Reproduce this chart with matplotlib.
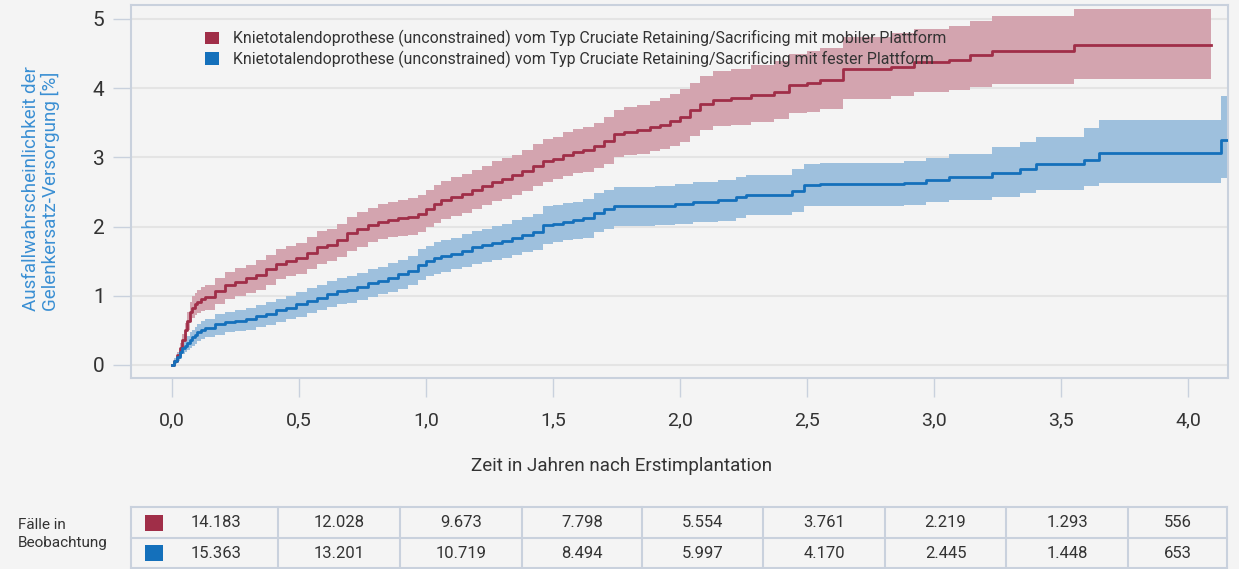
import matplotlib
matplotlib.use("Agg")
import matplotlib.pyplot as plt
from matplotlib.patches import Patch, Rectangle

plt.rcParams['font.family'] = ['Roboto', 'DejaVu Sans']

# ---------------- data ----------------
red_label = "Knietotalendoprothese (unconstrained) vom Typ Cruciate Retaining/Sacrificing mit mobiler Plattform"
blue_label = "Knietotalendoprothese (unconstrained) vom Typ Cruciate Retaining/Sacrificing mit fester Plattform"

red_t = [0.00, 0.01, 0.02, 0.03, 0.04, 0.05, 0.06, 0.07, 0.08, 0.09, 0.10, 0.115, 0.13,
         0.17, 0.21, 0.25, 0.29, 0.33, 0.37, 0.41, 0.45, 0.49,
         0.53, 0.57, 0.61, 0.65, 0.69, 0.73, 0.77, 0.81, 0.85, 0.89, 0.93, 0.97, 1.00, 1.03, 1.06, 1.10,
         1.14, 1.18, 1.22, 1.26, 1.30, 1.34, 1.38, 1.42, 1.46, 1.50, 1.54, 1.58, 1.62, 1.66, 1.70, 1.74,
         1.78, 1.83, 1.88, 1.92, 1.96, 2.00, 2.04, 2.08, 2.13, 2.20, 2.28, 2.37, 2.43, 2.50, 2.55, 2.64,
         2.83, 2.92, 3.06, 3.14, 3.23, 3.55, 4.09]
red_v = [0.00, 0.06, 0.14, 0.25, 0.36, 0.50, 0.64, 0.76, 0.83, 0.88, 0.91, 0.95, 0.98,
         1.07, 1.15, 1.20, 1.25, 1.30, 1.38, 1.46, 1.50, 1.54,
         1.62, 1.70, 1.74, 1.80, 1.90, 1.96, 2.02, 2.07, 2.10, 2.13, 2.14, 2.18, 2.25, 2.32, 2.38, 2.42,
         2.47, 2.53, 2.59, 2.65, 2.69, 2.74, 2.80, 2.88, 2.94, 2.98, 3.04, 3.08, 3.11, 3.16, 3.23, 3.34,
         3.37, 3.40, 3.44, 3.47, 3.53, 3.58, 3.68, 3.77, 3.83, 3.85, 3.90, 3.95, 4.05, 4.08, 4.12, 4.27,
         4.31, 4.38, 4.41, 4.48, 4.54, 4.62, 4.62]
red_lo = [0.00, 0.03, 0.09, 0.18, 0.27, 0.39, 0.51, 0.62, 0.68, 0.72, 0.75, 0.78, 0.80,
          0.88, 0.95, 0.99, 1.04, 1.08, 1.16, 1.24, 1.28, 1.31,
          1.39, 1.46, 1.50, 1.56, 1.65, 1.71, 1.77, 1.82, 1.85, 1.87, 1.88, 1.92, 1.99, 2.05, 2.11, 2.15,
          2.20, 2.25, 2.31, 2.37, 2.40, 2.45, 2.51, 2.58, 2.64, 2.68, 2.73, 2.77, 2.79, 2.84, 2.90, 3.00,
          3.03, 3.05, 3.09, 3.12, 3.17, 3.22, 3.31, 3.40, 3.45, 3.47, 3.51, 3.55, 3.64, 3.66, 3.70, 3.84,
          3.88, 3.95, 3.97, 4.02, 4.06, 4.13, 4.13]
red_hi = [0.00, 0.09, 0.19, 0.32, 0.45, 0.61, 0.77, 0.91, 0.99, 1.04, 1.08, 1.12, 1.15,
          1.25, 1.34, 1.40, 1.45, 1.51, 1.59, 1.68, 1.72, 1.76,
          1.85, 1.93, 1.97, 2.04, 2.14, 2.21, 2.27, 2.33, 2.36, 2.39, 2.41, 2.45, 2.53, 2.60, 2.66, 2.71,
          2.76, 2.82, 2.88, 2.95, 2.99, 3.04, 3.11, 3.19, 3.26, 3.30, 3.36, 3.41, 3.44, 3.50, 3.58, 3.69,
          3.72, 3.76, 3.81, 3.85, 3.92, 3.98, 4.08, 4.18, 4.24, 4.27, 4.33, 4.39, 4.49, 4.53, 4.58, 4.74,
          4.79, 4.86, 4.90, 4.97, 5.04, 5.14, 5.14]

blue_t = [0.00, 0.01, 0.02, 0.03, 0.04, 0.05, 0.06, 0.07, 0.08, 0.09, 0.10, 0.115, 0.13,
          0.17, 0.21, 0.25, 0.29, 0.33, 0.37, 0.41, 0.45, 0.49,
          0.53, 0.57, 0.61, 0.65, 0.69, 0.73, 0.77, 0.81, 0.85, 0.89, 0.93, 0.97, 1.00, 1.03, 1.06, 1.10,
          1.14, 1.18, 1.22, 1.26, 1.30, 1.34, 1.38, 1.42, 1.46, 1.50, 1.54, 1.58, 1.62, 1.66, 1.70, 1.74,
          1.90, 1.98, 2.05, 2.15, 2.22, 2.26, 2.44, 2.49, 2.55, 2.88, 2.97, 3.06, 3.23, 3.34, 3.40, 3.59,
          3.65, 4.13, 4.16]
blue_v = [0.00, 0.06, 0.12, 0.19, 0.25, 0.28, 0.32, 0.36, 0.40, 0.44, 0.47, 0.51, 0.54,
          0.59, 0.62, 0.64, 0.67, 0.71, 0.74, 0.79, 0.83, 0.88,
          0.93, 0.97, 1.03, 1.07, 1.09, 1.13, 1.18, 1.22, 1.26, 1.31, 1.36, 1.45, 1.50, 1.54, 1.57, 1.61,
          1.65, 1.70, 1.73, 1.76, 1.79, 1.84, 1.88, 1.92, 2.02, 2.04, 2.07, 2.09, 2.12, 2.20, 2.25, 2.29,
          2.30, 2.32, 2.35, 2.38, 2.42, 2.46, 2.52, 2.60, 2.61, 2.63, 2.67, 2.72, 2.77, 2.83, 2.90, 2.96,
          3.06, 3.25, 3.25]
blue_lo = [0.00, 0.02, 0.06, 0.11, 0.16, 0.19, 0.22, 0.25, 0.28, 0.31, 0.34, 0.37, 0.40,
           0.44, 0.47, 0.49, 0.51, 0.55, 0.58, 0.62, 0.66, 0.70,
           0.75, 0.79, 0.84, 0.88, 0.90, 0.94, 0.98, 1.02, 1.05, 1.10, 1.15, 1.23, 1.28, 1.32, 1.35, 1.38,
           1.42, 1.46, 1.49, 1.52, 1.54, 1.59, 1.63, 1.66, 1.75, 1.77, 1.80, 1.82, 1.84, 1.92, 1.97, 2.01,
           2.02, 2.03, 2.06, 2.08, 2.12, 2.16, 2.21, 2.29, 2.30, 2.31, 2.35, 2.39, 2.43, 2.48, 2.53, 2.58,
           2.63, 2.70, 2.70]
blue_hi = [0.00, 0.10, 0.18, 0.26, 0.33, 0.38, 0.42, 0.47, 0.51, 0.55, 0.59, 0.63, 0.67,
           0.73, 0.77, 0.80, 0.83, 0.87, 0.91, 0.96, 1.00, 1.05,
           1.11, 1.15, 1.21, 1.26, 1.28, 1.33, 1.38, 1.42, 1.47, 1.52, 1.58, 1.67, 1.72, 1.77, 1.80, 1.84,
           1.89, 1.94, 1.97, 2.01, 2.04, 2.09, 2.14, 2.18, 2.29, 2.31, 2.34, 2.36, 2.40, 2.48, 2.53, 2.57,
           2.59, 2.61, 2.64, 2.67, 2.71, 2.75, 2.83, 2.91, 2.92, 2.95, 2.99, 3.05, 3.15, 3.22, 3.30, 3.42,
           3.54, 3.88, 3.88]

x_ticks = [0.0, 0.5, 1.0, 1.5, 2.0, 2.5, 3.0, 3.5, 4.0]
x_ticklabels = ["0,0", "0,5", "1,0", "1,5", "2,0", "2,5", "3,0", "3,5", "4,0"]
y_ticks = [0, 1, 2, 3, 4, 5]

table_row_label = "Fälle in\nBeobachtung"
red_counts = [14183, 12028, 9673, 7798, 5554, 3761, 2219, 1293, 556]
blue_counts = [15363, 13201, 10719, 8494, 5997, 4170, 2445, 1448, 653]

# ---------------- style ----------------
BG = "#f4f4f4"
RED = "#a02e48"
RED_BAND = "#d3a4af"
BLUE = "#1470bb"
BLUE_BAND = "#9abedc"
FRAME = "#c9d1dd"
GRID = "#e4e4e4"
TXT = "#333333"
YLAB = "#3a8fd3"

W, H = 1239, 569
fig = plt.figure(figsize=(W / 100, H / 100), dpi=100, facecolor=BG)

def fx(px):
    return px / W

def fy(py):
    return 1 - py / H

ax = fig.add_axes([fx(131), fy(378), fx(1228) - fx(131), fy(5) - fy(378)])
ax.set_facecolor(BG)
ax.set_xlim(-0.161, 4.157)
ax.set_ylim(-0.188, 5.20)

for s in ax.spines.values():
    s.set_color(FRAME)
    s.set_linewidth(1.5)

ax.set_yticks(y_ticks)
ax.set_xticks(x_ticks)
ax.set_xticklabels(x_ticklabels)
ax.tick_params(axis='y', length=13, width=1, color=FRAME, pad=6, labelsize=15, labelcolor=TXT)
ax.tick_params(axis='x', length=14, width=1, color=FRAME, pad=10, labelsize=14, labelcolor=TXT)
ax.grid(axis='y', color=GRID, linewidth=1.5, zorder=0)
ax.set_axisbelow(True)

ax.fill_between(red_t, red_lo, red_hi, step='post', color=RED_BAND, linewidth=0, zorder=2)
ax.fill_between(blue_t, blue_lo, blue_hi, step='post', color=BLUE_BAND, linewidth=0, zorder=2, alpha=0.95)
ax.step(red_t, red_v, where='post', color=RED, linewidth=2.0, zorder=3)
ax.step(blue_t, blue_v, where='post', color=BLUE, linewidth=2.0, zorder=3)

handles = [Patch(facecolor=RED, edgecolor='none'), Patch(facecolor=BLUE, edgecolor='none')]
leg = fig.legend(handles, [red_label, blue_label], loc='upper left',
                 bbox_to_anchor=(fx(205), fy(30)), bbox_transform=fig.transFigure,
                 frameon=False, fontsize=11.4, handlelength=0.9, handleheight=0.85,
                 handletextpad=0.85, labelspacing=0.22, borderaxespad=0, borderpad=0)
for t in leg.get_texts():
    t.set_color(TXT)

fig.text(fx(622), fy(466), "Zeit in Jahren nach Erstimplantation", ha='center', va='center',
         fontsize=13.5, color=TXT)

fig.text(fx(41), fy(189), "Ausfallwahrscheinlichkeit der\nGelenkersatz-Versorgung [%]",
         rotation=90, ha='center', va='center', multialignment='left',
         fontsize=13.5, color=YLAB, linespacing=1.1)

# ---------------- table ----------------
tax = fig.add_axes([0, 0, 1, 1])
tax.set_xlim(0, W)
tax.set_ylim(H, 0)
tax.axis('off')
col_edges = [131, 278, 400, 522, 642, 763, 885, 1006, 1128, 1227]
row_edges = [507, 538, 568]
for x in col_edges:
    tax.plot([x, x], [row_edges[0], row_edges[-1]], color=FRAME, linewidth=1.5)
for y in row_edges:
    tax.plot([col_edges[0], col_edges[-1]], [y, y], color=FRAME, linewidth=1.5)

def fmt(n):
    return f"{n:,}".replace(",", ".")

for r, (counts, col) in enumerate([(red_counts, RED), (blue_counts, BLUE)]):
    yc = (row_edges[r] + row_edges[r + 1]) / 2
    tax.add_patch(Rectangle((145, yc - 8), 18, 16, facecolor=col, edgecolor='none'))
    for i, n in enumerate(counts):
        if i == 0:
            xc = 216
        else:
            xc = (col_edges[i] + col_edges[i + 1]) / 2
        tax.text(xc, yc, fmt(n), ha='center', va='center', fontsize=12, color=TXT)

tax.text(18, 534, table_row_label, ha='left', va='center', fontsize=11, color=TXT, linespacing=1.3)

fig.savefig("out.png", dpi=100, facecolor=BG)
